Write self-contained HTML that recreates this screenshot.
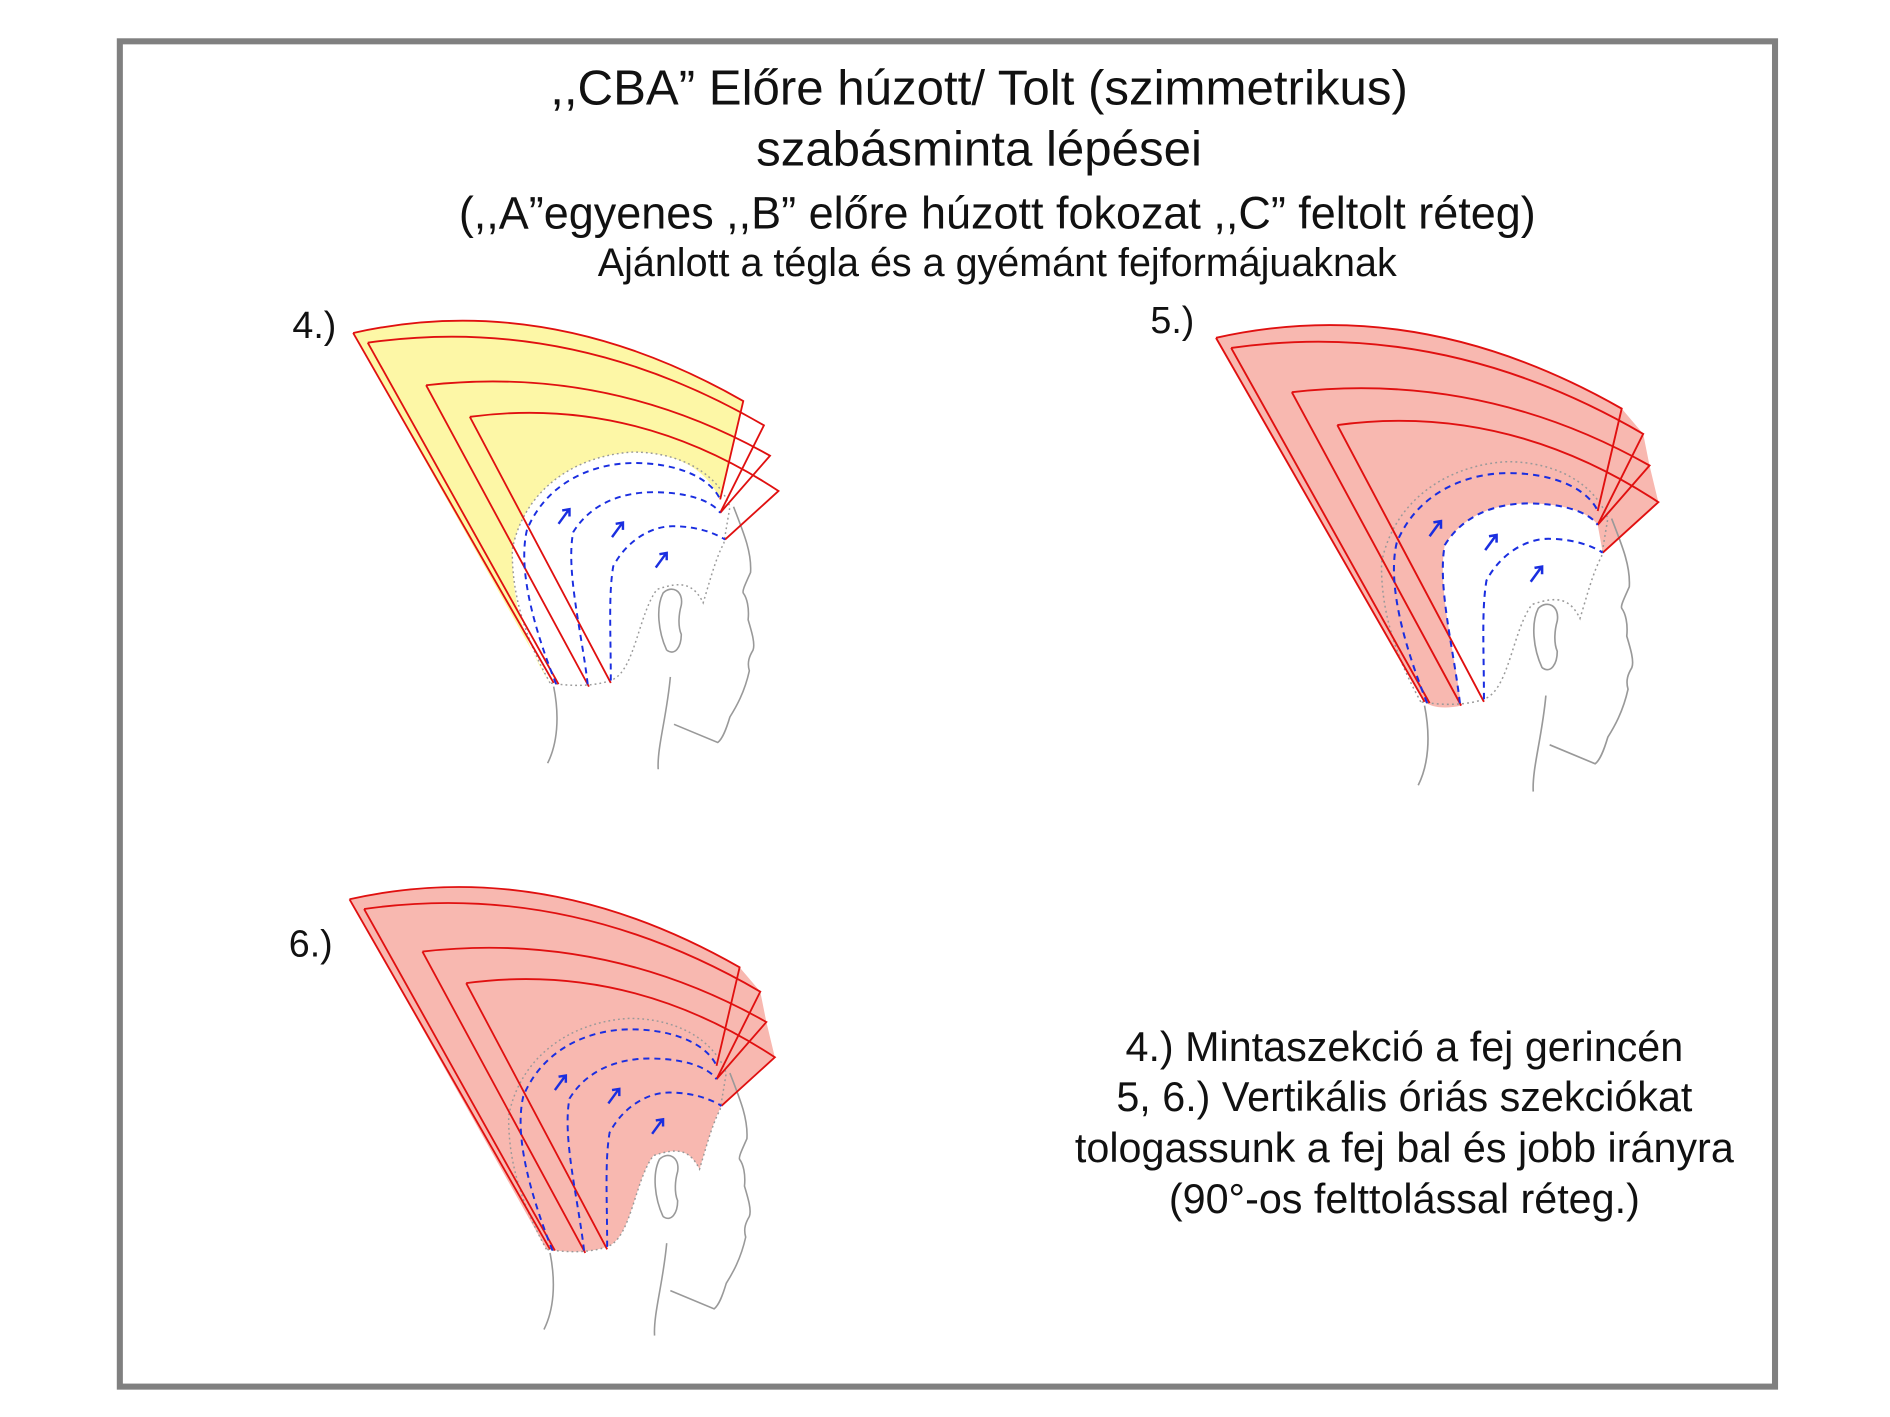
<!DOCTYPE html>
<html><head><meta charset="utf-8"><style>
html,body{margin:0;padding:0;background:#fff;}
svg{display:block;}
text{font-family:"Liberation Sans",Arial,sans-serif;fill:#111;}
</style></head><body>
<svg width="1890" height="1417" viewBox="0 0 1554 1166" xmlns="http://www.w3.org/2000/svg">
<defs>
  <g id="head" fill="none">
    <path d="M603,417 C612,440 618,455 617,471 C613,480 610,486 611,488 C614,492 616,500 615,510 C618,520 621,530 619,535 C616,540 614,545 616,552 C612,570 605,582 600,590 C597,600 594,608 590,611 L554,596" stroke="#999" stroke-width="1.3"/>
    <path d="M551,557 C548,590 540,615 541,633" stroke="#999" stroke-width="1.3"/>
    <path d="M455,565 C460,590 458,612 450,628" stroke="#999" stroke-width="1.3"/>
    <path d="M548,535 C541,520 539,500 545,488 C552,481 562,486 560,498 C558,505 557,515 560,522 C560,532 555,540 548,535" stroke="#999" stroke-width="1.3"/>
    <path d="M452,562 C440,540 420,500 421,452 C430,405 470,375 520,372 C560,372 590,390 600,417 L595,447 C588,460 583,480 578,496 C570,480 560,478 540,485 C525,505 522,550 504,559 C490,565 470,565 452,562" stroke="#999" stroke-width="1.2" stroke-dasharray="1.5,2.5"/>
  </g>
  <g id="wedges" fill="none" stroke="#e01010" stroke-width="1.5">
    <path d="M290,274 Q450,238 611,330 L592,411"/>
    <path d="M290,274 L455,562"/>
    <path d="M302,282 Q470,258 628,350 L592,422 M302,282 L459,563"/>
    <path d="M350,317 Q500,300 633,375 L592,422 M350,317 L484,565"/>
    <path d="M386,343 Q520,325 640,404 L596,444 M386,343 L502,562"/>
  </g>
  <g id="blue" fill="none" stroke="#1a2ee0" stroke-width="1.6" stroke-dasharray="5,4">
    <path d="M457,563 C440,520 425,470 433,436 C450,395 490,381 521,381 C560,381 585,395 592,411"/>
    <path d="M483,563 C478,520 465,470 471,438 C485,415 510,405 537,405 C565,405 585,412 592,422"/>
    <path d="M502,560 C502,520 500,490 504,466 C515,445 535,433 553,433 C575,433 590,440 596,444"/>
  </g>
  <g id="arrows" stroke="#1a2ee0" stroke-width="2" fill="#1a2ee0">
    <path d="M459,431 L467,420 M462,420 L468,419 L468,425" fill="none"/>
    <path d="M503,442 L511,431 M506,431 L512,430 L512,436" fill="none"/>
    <path d="M539,467 L547,456 M542,456 L548,455 L548,461" fill="none"/>
  </g>
</defs>

<rect x="98" y="34" width="1362" height="1107" fill="none" stroke="#808080" stroke-width="5"/>

<text x="805" y="86" font-size="40.5" text-anchor="middle">,,CBA” Előre húzott/ Tolt (szimmetrikus)</text>
<text x="805" y="136" font-size="40.5" text-anchor="middle">szabásminta lépései</text>
<text x="820" y="188" font-size="37" text-anchor="middle">(,,A”egyenes ,,B” előre húzott  fokozat  ,,C” feltolt réteg)</text>
<text x="820" y="227" font-size="32.5" text-anchor="middle">Ajánlott a tégla és a gyémánt fejformájuaknak</text>

<text x="240" y="278" font-size="31">4.)</text>
<text x="946" y="274" font-size="31">5.)</text>
<text x="237" y="787" font-size="31">6.)</text>

<g>
  <path d="M290,274 Q450,238 611,330 L592,411 C580,385 555,372 520,372 C470,375 430,405 421,452 C420,490 430,530 452,562 Z" fill="#fdf7a6"/>
  <use href="#head"/>
  <use href="#wedges"/>
  <use href="#blue"/>
  <use href="#arrows"/>
</g>

<g transform="translate(1000,278) scale(1.04) translate(-290,-274)">
  <path d="M290,274 Q450,238 611,330 L628,350 L633,375 L640,404 L596,444 L592,422 C585,412 565,405 537,405 C510,405 485,415 471,438 C465,470 478,520 484,565 C470,568 460,566 455,562 Z" fill="#f8b8b0"/>
  <use href="#head"/>
  <use href="#wedges"/>
  <use href="#blue"/>
  <use href="#arrows"/>
</g>

<g transform="translate(-3,466)">
  <path d="M290,274 Q450,238 611,330 L628,350 L633,375 L640,404 L596,444 C588,460 583,480 578,496 C570,480 560,478 540,485 C525,505 522,550 504,559 C490,565 470,565 452,562 Z" fill="#f8b8b0"/>
  <use href="#head"/>
  <use href="#wedges"/>
  <use href="#blue"/>
  <use href="#arrows"/>
</g>

<text x="1155" y="873" font-size="34" text-anchor="middle">4.) Mintaszekció  a fej gerincén</text>
<text x="1155" y="914" font-size="34" text-anchor="middle">5, 6.) Vertikális óriás szekciókat</text>
<text x="1155" y="956" font-size="34" text-anchor="middle">tologassunk a fej bal és jobb irányra</text>
<text x="1155" y="998" font-size="34" text-anchor="middle">(90°-os felttolással réteg.)</text>
</svg>
</body></html>
